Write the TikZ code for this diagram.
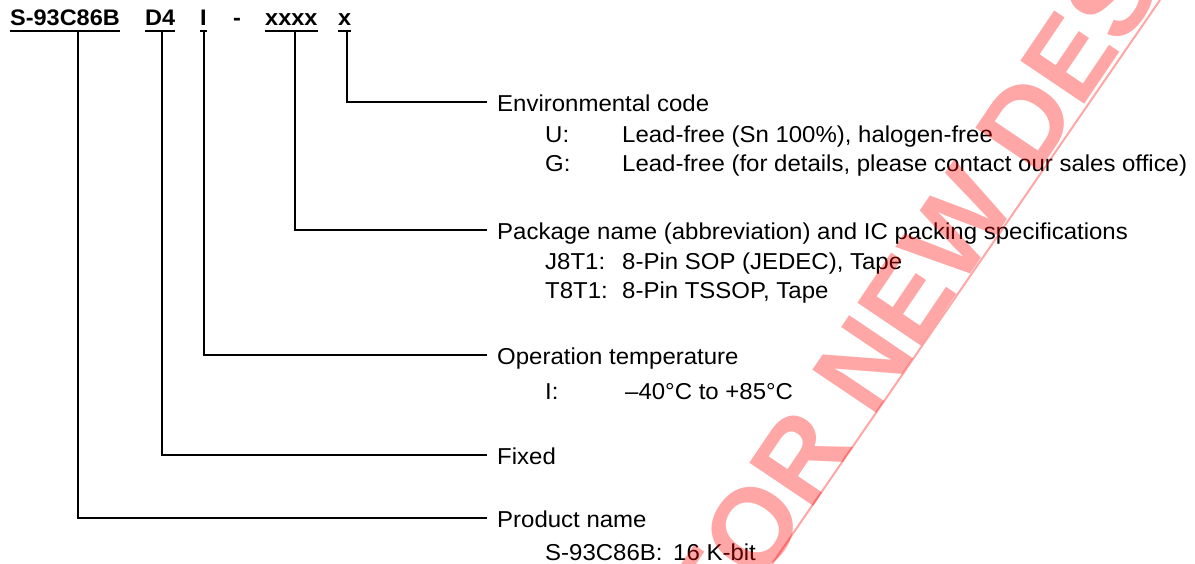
\documentclass[tikz,border=0pt]{standalone}
\usepackage{fontspec}
\setmainfont{Liberation Sans}[FakeStretch=1.043]
\newfontfamily\wmfont{Liberation Sans}
\begin{document}
\begin{tikzpicture}[x=1pt,y=-1pt,
  hdr/.style={font=\bfseries\fontsize{22.5}{22.5}\selectfont, anchor=base west, inner sep=0pt},
  ttl/.style={font=\fontsize{23}{23}\selectfont, anchor=base west, inner sep=0pt},
  ul/.style={line width=2.6pt},
  lead/.style={line width=2pt},
  wm/.style={font=\wmfont\bfseries\fontsize{112}{112}\selectfont, text=red, text opacity=0.35, inner sep=0pt},
  wmline/.style={draw=red, draw opacity=0.35, line width=2pt}]
\useasboundingbox (0,0) rectangle (1195,564);
\fill[white] (0,0) rectangle (1195,564);
% header
\node[hdr] (pn) at (10,26) {S-93C86B};
\node[hdr] (d4) at (145,26) {D4};
\node[hdr] (ti) at (200,26) {I};
\node[hdr] (dash) at (233,26) {-};
\node[hdr] (pk) at (265,26) {xxxx};
\node[hdr] (ev) at (338,26) {x};
\foreach \n in {pn,d4,ti,pk,ev}
  \draw[ul] ([yshift=-5pt]\n.base west) -- ([yshift=-5pt]\n.base east);
\coordinate (uS) at (78,31);
\coordinate (uD) at (162,31);
\coordinate (uI) at (204,31);
\coordinate (uP) at (295,31);
\coordinate (uE) at (347,31);
% titles
\node[ttl] (tenv) at (497,111.5) {Environmental code};
\node[ttl] (u1) at (545,143) {U:};
\node[ttl] (u2) at (622,143) {Lead-free (Sn 100\%), halogen-free};
\node[ttl] (g1) at (545,172) {G:};
\node[ttl] (g2) at (622,172) {Lead-free (for details, please contact our sales office)};
\node[ttl] (tpkg) at (497,239.5) {Package name (abbreviation) and IC packing specifications};
\node[ttl] (j1) at (545,270) {J8T1:};
\node[ttl] (j2) at (622,270) {8-Pin SOP (JEDEC), Tape};
\node[ttl] (t1) at (545,299) {T8T1:};
\node[ttl] (t2) at (622,299) {8-Pin TSSOP, Tape};
\node[ttl] (top) at (497,364.5) {Operation temperature};
\node[ttl] (i1) at (545,399) {I:};
\node[ttl] (i2) at (625,399) {–40°C to +85°C};
\node[ttl] (tfix) at (497,464.5) {Fixed};
\node[ttl] (tprod) at (497,527.5) {Product name};
\node[ttl] (s1) at (545,560) {S-93C86B:};
\node[ttl] (s2) at (673,560) {16 K-bit};
% leaders
\draw[lead] (uE) |- ([xshift=-10pt,yshift=9.5pt]tenv.base west);
\draw[lead] (uP) |- ([xshift=-10pt,yshift=9.5pt]tpkg.base west);
\draw[lead] (uI) |- ([xshift=-10pt,yshift=9.5pt]top.base west);
\draw[lead] (uD) |- ([xshift=-10pt,yshift=9.5pt]tfix.base west);
\draw[lead] (uS) |- ([xshift=-10pt,yshift=9.5pt]tprod.base west);
% watermark
\begin{scope}
\clip (0,0) rectangle (1195,564);
\node[wm, rotate=56, anchor=base west] (wmark) at (872,420) {\llap{NOT RECOMMENDED FOR }NEW DESIGN};
\coordinate (wa) at (1160,0);
\coordinate (wb) at (772,564);
\draw[wmline] (wa) -- (wb);
\end{scope}
\end{tikzpicture}
\end{document}
